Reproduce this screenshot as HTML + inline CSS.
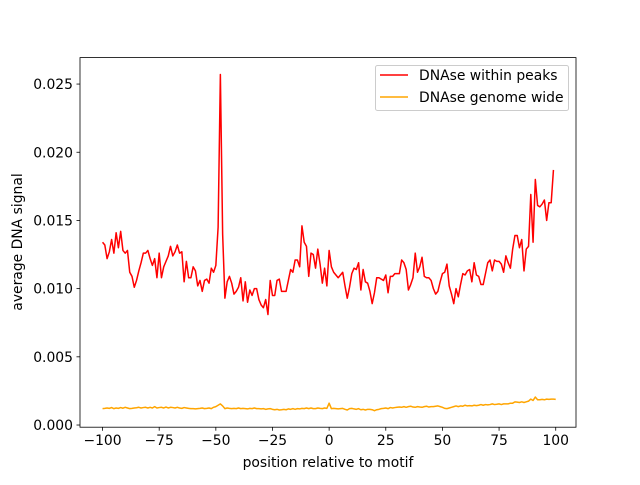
<!DOCTYPE html>
<html><head><meta charset="utf-8"><style>
body{margin:0;background:#fff;}
svg text{font-family:"DejaVu Sans","Liberation Sans",sans-serif;font-size:13.9px;fill:#000;}
</style></head><body>
<svg id="chart" width="640" height="480" xmlns="http://www.w3.org/2000/svg">
<rect x="0" y="0" width="640" height="480" fill="#fff"/>
<g id="plot"></g>
<g id="axes"></g>
</svg>
<script>
const xStart = -100;
const redValues = [13.4,13.2,12.2,12.7,13.6,12.6,14.1,13.0,14.2,12.8,12.6,12.8,11.2,10.9,10.1,10.6,11.3,11.9,12.6,12.6,12.8,12.2,11.7,12.2,10.8,12.6,10.8,11.6,12.0,12.4,13.1,12.4,12.7,13.2,12.6,12.7,10.5,12.0,10.8,10.8,11.6,11.3,10.2,10.6,9.8,10.6,10.7,10.4,11.5,11.2,11.7,14.5,25.7,14.0,9.3,10.5,10.9,10.4,9.6,9.8,10.1,10.8,9.1,10.5,9.0,9.9,9.5,10.0,10.0,9.2,8.8,8.6,9.2,8.1,10.6,9.5,9.5,10.6,10.7,9.8,9.8,9.8,10.6,11.4,11.2,12.1,12.1,11.6,14.6,13.4,13.1,10.9,12.6,12.5,11.5,12.9,11.8,10.4,11.5,10.2,12.8,11.6,11.2,11.0,10.8,11.0,11.2,10.2,9.3,10.1,11.1,11.5,11.4,11.9,9.9,11.4,10.5,10.4,9.8,8.9,9.7,10.8,10.8,10.7,10.6,11.0,9.7,10.9,10.9,11.1,11.1,11.1,12.1,11.9,11.4,9.9,10.3,10.8,12.6,11.2,11.6,12.3,10.9,10.8,10.8,10.6,10.0,9.6,9.8,10.5,11.1,11.2,11.8,10.2,9.6,8.9,10.0,9.4,10.3,11.1,11.0,11.3,11.4,10.5,11.9,11.0,10.9,10.3,10.3,11.1,11.9,12.1,11.3,12.1,12.0,12.0,11.8,11.2,12.4,11.9,11.5,12.9,13.9,13.9,13.0,13.6,11.3,12.9,13.1,16.9,13.4,18.0,16.1,16.0,16.2,16.5,15.0,16.3,16.3,18.7];
const orangeValues = [1.2,1.22,1.25,1.22,1.28,1.2,1.25,1.22,1.28,1.23,1.3,1.25,1.2,1.22,1.25,1.27,1.3,1.25,1.28,1.3,1.25,1.3,1.25,1.35,1.25,1.28,1.3,1.25,1.32,1.25,1.3,1.28,1.25,1.3,1.25,1.22,1.28,1.25,1.22,1.2,1.2,1.18,1.2,1.22,1.25,1.2,1.22,1.25,1.2,1.3,1.35,1.45,1.55,1.4,1.2,1.25,1.22,1.2,1.22,1.2,1.25,1.2,1.22,1.2,1.18,1.22,1.2,1.25,1.2,1.2,1.18,1.2,1.15,1.18,1.2,1.15,1.12,1.15,1.1,1.12,1.15,1.12,1.18,1.15,1.2,1.15,1.2,1.18,1.22,1.2,1.25,1.2,1.25,1.2,1.2,1.25,1.22,1.2,1.25,1.22,1.6,1.2,1.22,1.2,1.18,1.2,1.22,1.15,1.1,1.2,1.22,1.18,1.15,1.2,1.12,1.15,1.1,1.15,1.15,1.12,1.05,1.12,1.15,1.2,1.22,1.25,1.2,1.28,1.25,1.28,1.3,1.32,1.3,1.35,1.3,1.35,1.38,1.32,1.3,1.35,1.32,1.3,1.35,1.38,1.32,1.35,1.35,1.38,1.4,1.35,1.3,1.22,1.2,1.25,1.3,1.35,1.4,1.35,1.4,1.38,1.45,1.4,1.42,1.4,1.45,1.42,1.45,1.5,1.45,1.5,1.48,1.5,1.55,1.5,1.52,1.55,1.5,1.55,1.55,1.55,1.6,1.6,1.7,1.68,1.65,1.7,1.65,1.7,1.75,1.9,1.8,2.05,1.85,1.85,1.88,1.85,1.9,1.88,1.9,1.9,1.88];
const xTicks = [-100,-75,-50,-25,0,25,50,75,100];
const yTicks = [0,5,10,15,20,25];
const yTickLabels = ["0.000","0.005","0.010","0.015","0.020","0.025"];

const L=80,T=57.6,W=496,H=369.6;
const xMin=-109.95,xMax=108.95,yMin=-0.16,yMax=26.94;
const sx=v=>L+(v-xMin)/(xMax-xMin)*W;
const sy=v=>T+H-(v-yMin)/(yMax-yMin)*H;
const NS="http://www.w3.org/2000/svg";
const plot=document.getElementById('plot'),axes=document.getElementById('axes');
function mk(tag,attrs,parent){const e=document.createElementNS(NS,tag);for(const k in attrs)e.setAttribute(k,attrs[k]);parent.appendChild(e);return e;}

function line(vals,color,name){
  const d=vals.map((v,i)=>(i?'L':'M')+sx(xStart+i).toFixed(2)+','+sy(v).toFixed(2)).join('');
  const p=mk('path',{d:d,fill:'none',stroke:color,'stroke-width':1.5,'stroke-linejoin':'round'},plot);
  
  
}
line(redValues,'#ff0000','series-dnase-within-peaks');
line(orangeValues,'#ffa500','series-dnase-genome-wide');

const frame=mk('rect',{x:L,y:T,width:W,height:H,fill:'none',stroke:'#000','stroke-width':0.8},axes);



xTicks.forEach(t=>{
  const x=sx(t);
  const tk=mk('line',{x1:x,x2:x,y1:T+H,y2:T+H+3.5,stroke:'#000','stroke-width':0.8},axes);
  
  
  const tx=mk('text',{x:x,y:T+H+18,'text-anchor':'middle'},axes);
  tx.textContent=t<0?'\u2212'+(-t):String(t);
  
  
});
yTicks.forEach((t,i)=>{
  const y=sy(t);
  const tk=mk('line',{x1:L-3.5,x2:L,y1:y,y2:y,stroke:'#000','stroke-width':0.8},axes);
  
  
  const tx=mk('text',{x:L-7,y:y+5,'text-anchor':'end'},axes);
  tx.textContent=yTickLabels[i];
  
  
});
</script>
<svg width="640" height="480" style="position:absolute;left:0;top:0" xmlns="http://www.w3.org/2000/svg">
<text x="328" y="467" text-anchor="middle">position relative to motif</text>
<text x="0" y="0" transform="translate(22,242) rotate(-90)" text-anchor="middle">average DNA signal</text>
<g>
<rect x="375.5" y="65.5" width="193" height="45" rx="2" fill="#fff" fill-opacity="0.8" stroke="#ccc"/>
<line x1="380" y1="75" x2="408" y2="75" stroke="#ff0000" stroke-width="1.5"/>
<text x="419" y="80">DNAse within peaks</text>
<line x1="380" y1="97" x2="408" y2="97" stroke="#ffa500" stroke-width="1.5"/>
<text x="419" y="102">DNAse genome wide</text>
</g>
</svg>
<style>svg text{font-family:"DejaVu Sans","Liberation Sans",sans-serif;font-size:13.9px;}</style>
</body></html>
